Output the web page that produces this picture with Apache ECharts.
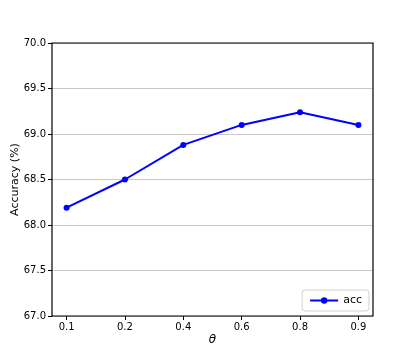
<!DOCTYPE html>
<html>
<head>
<meta charset="utf-8">
<script src="https://cdn.jsdelivr.net/npm/echarts@6/dist/echarts.min.js"></script>
<style>
  html, body { margin: 0; padding: 0; background: #fff; }
  #chart { width: 415px; height: 356px; }
</style>
</head>
<body>
<div id="chart"></div>
<script>
const thetaLabels = ['0.1', '0.2', '0.4', '0.6', '0.8', '0.9']
const accValues = [68.19, 68.50, 68.88, 69.10, 69.24, 69.10]
const yTicks = [67.0, 67.5, 68.0, 68.5, 69.0, 69.5, 70.0]

const chart = echarts.init(document.getElementById('chart'))
const font = 'DejaVu Sans'

// x as index so that points sit a quarter step in from the frame
const points = accValues.map((v, i) => [i, v])
const xIdx = thetaLabels.map((t, i) => i)

chart.setOption({
  animation: false,
  textStyle: { fontFamily: font },
  grid: { left: 52, top: 43, width: 321, height: 273, containLabel: false, outerBoundsMode: 'none' },
  legend: {
    right: 46, bottom: 45,
    data: ['acc'],
    itemWidth: 28, itemHeight: 8,
    padding: [5, 7],
    borderColor: '#d0d0d0', borderWidth: 1, borderRadius: 3,
    backgroundColor: '#fff',
    textStyle: { fontSize: 11, color: '#000', fontFamily: font }
  },
  xAxis: {
    type: 'value',
    min: -0.25, max: 5.25,
    name: 'θ', nameLocation: 'middle', nameGap: 18, nameMoveOverlap: false,
    nameTextStyle: { fontSize: 12, fontStyle: 'italic', color: '#000', fontFamily: font },
    axisLine: { show: false, onZero: false },
    axisTick: { show: true, length: 4, lineStyle: { color: '#000' }, customValues: xIdx },
    axisLabel: {
      fontSize: 10, color: '#000', margin: 6,
      customValues: xIdx,
      formatter: v => thetaLabels[Math.round(v)] || ''
    },
    splitLine: { show: false }
  },
  yAxis: {
    type: 'value',
    min: yTicks[0], max: yTicks[yTicks.length - 1], interval: 0.5,
    name: 'Accuracy (%)', nameLocation: 'middle', nameGap: 31, nameRotate: 90, nameMoveOverlap: false,
    nameTextStyle: { fontSize: 11, color: '#000', fontFamily: font },
    axisLine: { show: false, onZero: false },
    axisTick: { show: true, length: 4, lineStyle: { color: '#000' } },
    axisLabel: { fontSize: 10, color: '#000', margin: 6, formatter: v => v.toFixed(1) },
    splitLine: { show: true, lineStyle: { color: '#c8c8c8', width: 1 } }
  },
  graphic: [{
    type: 'rect', silent: true, z: 5,
    shape: { x: 52, y: 43, width: 321, height: 273 },
    style: { fill: 'none', stroke: '#000', lineWidth: 1.2 }
  }],
  series: [{
    name: 'acc',
    type: 'line',
    data: points,
    symbol: 'circle', symbolSize: 6,
    lineStyle: { color: '#0000ff', width: 2 },
    itemStyle: { color: '#0000ff' },
    z: 10
  }]
})
</script>
</body>
</html>
